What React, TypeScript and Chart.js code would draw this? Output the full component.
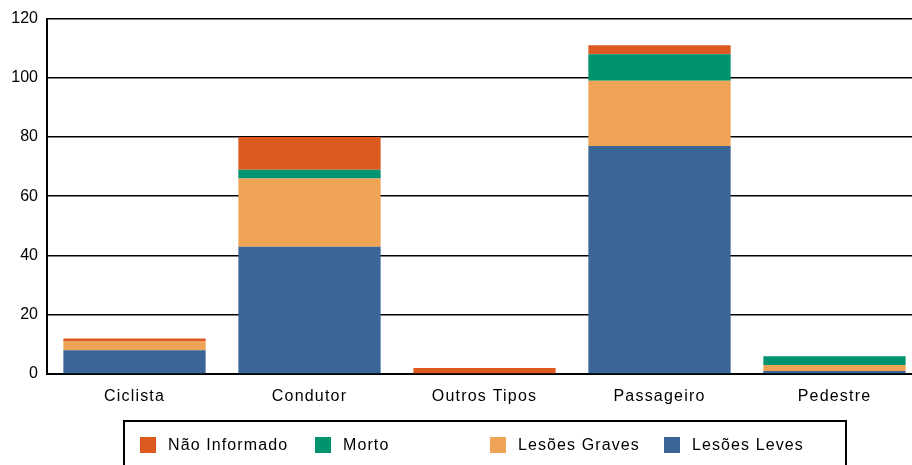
import React, { useEffect, useRef } from "react";
import { Chart, registerables } from "chart.js";

Chart.register(...registerables);

const categories = ["Ciclista", "Condutor", "Outros Tipos", "Passageiro", "Pedestre"];
const lesoesLeves = [8, 43, 0, 77, 1];
const lesoesGraves = [3, 23, 0, 22, 2];
const morto = [0, 3, 0, 9, 3];
const naoInformado = [1, 11, 2, 3, 0];
const yTicks = [0, 20, 40, 60, 80, 100, 120];

const seriesNames = ["Lesões Leves", "Lesões Graves", "Morto", "Não Informado"];
const seriesColors = ["#3B6597", "#EFA355", "#00936F", "#DC5A1F"];
const seriesData = [lesoesLeves, lesoesGraves, morto, naoInformado];
const legendOrder = [3, 2, 1, 0];

const FONT = "'Liberation Sans', Arial, sans-serif";

export default function App() {
  const ref = useRef<HTMLCanvasElement | null>(null);

  useEffect(() => {
    if (!ref.current) return;
    const chart = new Chart(ref.current, {
      type: "bar",
      data: {
        labels: categories,
        datasets: seriesNames.map((name, i) => ({
          label: name,
          data: seriesData[i],
          backgroundColor: seriesColors[i],
          borderWidth: 0,
          barPercentage: 0.813,
          categoryPercentage: 1,
        })),
      },
      options: {
        responsive: false,
        animation: false,
        layout: { padding: { top: 18, right: 0, left: 0, bottom: 0 } },
        plugins: { legend: { display: false }, tooltip: { enabled: false } },
        scales: {
          x: {
            stacked: true,
            grid: { display: false, drawTicks: false },
            border: { display: true, color: "#000", width: 2 },
            ticks: { color: "#000", font: { family: FONT, size: 16 }, padding: 13, maxRotation: 0 },
            afterFit: (s: any) => {
              s.height = 91;
              if (!s._lsPatched) {
                const orig = s.drawLabels;
                s.drawLabels = function (area: any) {
                  const ctx = this.ctx;
                  ctx.save();
                  (ctx as any).letterSpacing = "1.2px";
                  orig.call(this, area);
                  ctx.restore();
                };
                s._lsPatched = true;
              }
            },
          },
          y: {
            stacked: true,
            min: 0,
            max: 120,
            afterBuildTicks: (s: any) => {
              s.ticks = yTicks.map((v) => ({ value: v }));
            },
            grid: { color: "#000", lineWidth: 1.6, drawTicks: false },
            border: { display: true, color: "#000", width: 2 },
            ticks: { color: "#000", font: { family: FONT, size: 16 }, padding: 9 },
            afterFit: (s: any) => {
              s.width = 47;
            },
          },
        },
      },
    });
    return () => chart.destroy();
  }, []);

  const squareX = [140, 315, 490, 664];

  return (
    <div
      style={{
        position: "fixed",
        left: 0,
        top: 0,
        width: 912,
        height: 465,
        overflow: "hidden",
        background: "#fff",
      }}
    >
      <canvas ref={ref} width={922} height={465} style={{ position: "absolute", left: 0, top: 0 }} />
      <div
        style={{
          position: "absolute",
          left: 123,
          top: 420,
          width: 720,
          height: 60,
          border: "2px solid #000",
        }}
      />
      {legendOrder.map((idx, k) => (
        <React.Fragment key={idx}>
          <div
            style={{
              position: "absolute",
              left: squareX[k],
              top: 437,
              width: 16,
              height: 16,
              background: seriesColors[idx],
            }}
          />
          <div
            style={{
              position: "absolute",
              left: squareX[k] + 28,
              top: 435,
              fontFamily: FONT,
              fontSize: 16,
              lineHeight: "20px",
              letterSpacing: "1.1px",
              color: "#000",
              whiteSpace: "nowrap",
            }}
          >
            {seriesNames[idx]}
          </div>
        </React.Fragment>
      ))}
    </div>
  );
}
